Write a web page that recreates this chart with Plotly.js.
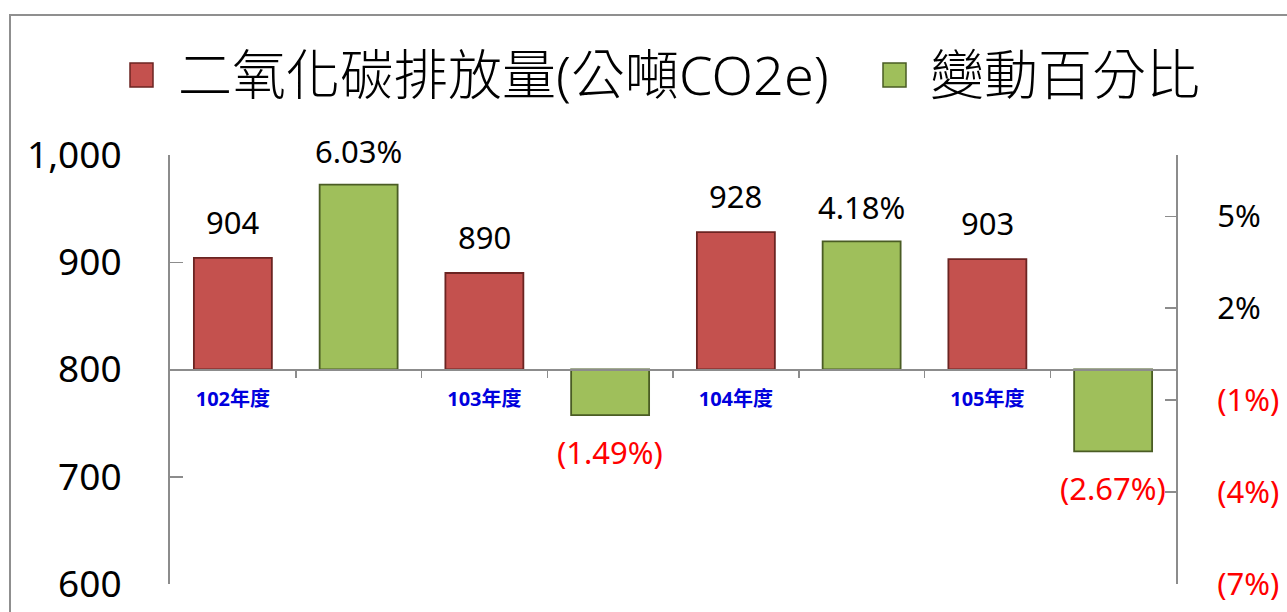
<!DOCTYPE html>
<html>
<head>
<meta charset="utf-8">
<script src="https://cdn.plot.ly/plotly-3.0.1.min.js"></script>
<style>
  html, body { margin: 0; padding: 0; background: #ffffff; overflow: hidden; }
  #chart { width: 1287px; height: 612px; position: absolute; left: 0; top: 0; }
  #frame { position: absolute; left: 9px; top: 14px; width: 1400px; height: 800px;
           border-left: 2px solid #8f8f8f; border-top: 2px solid #8f8f8f; pointer-events: none; }
</style>
</head>
<body>
<div id="chart"></div>
<div id="frame"></div>
<script>
// ---- data ----
const categories = ["102年度", "103年度", "104年度", "105年度"];
const emissions = [904, 890, 928, 903];          // 二氧化碳排放量(公噸CO2e)
const changePct = [6.03, -1.49, 4.18, -2.67];    // 變動百分比 (%)
const leftTicks = [600, 700, 800, 900, 1000];
const rightTicks = [5, 2, -1, -4, -7];
const seriesNames = ["二氧化碳排放量(公噸CO2e)", "變動百分比"];

// ---- styling ----
const BASE = 800;
const RED = "#C4514E", RED_EDGE = "#6b2422";
const GREEN = "#9FBF5B", GREEN_EDGE = "#4a5c24";
const FONT = "Noto Sans, Noto Sans CJK TC, sans-serif";
const AXIS = "#8c8c8c";

// plot area in pixels
const W = 1287, H = 612, L = 170, R = 1176, T = 155, B = 584;
const px = x => (x - L) / (R - L);
const py = y => (B - y) / (B - T);

const xRed = categories.map((c, i) => 2 * i);
const xGreen = categories.map((c, i) => 2 * i + 1);

const fmtPct = v => v < 0 ? "(" + Math.abs(v).toFixed(2) + "%)" : v.toFixed(2) + "%";
const fmtTickPct = v => v < 0 ? "<span style='color:#FF0000'>(" + Math.abs(v) + "%)</span>" : v + "%";

const traces = [
  {
    type: "bar", name: seriesNames[0], x: xRed,
    y: emissions.map(v => v - BASE), base: BASE,
    width: 0.62, yaxis: "y",
    marker: { color: RED, line: { color: RED_EDGE, width: 1.8 } },
    hoverinfo: "skip", showlegend: false
  },
  {
    type: "bar", name: seriesNames[1], x: xGreen,
    y: changePct, width: 0.62, yaxis: "y2",
    marker: { color: GREEN, line: { color: GREEN_EDGE, width: 1.8 } },
    hoverinfo: "skip", showlegend: false
  }
];

const annotations = [];
// value labels
emissions.forEach((v, i) => annotations.push({
  x: xRed[i], y: v, xref: "x", yref: "y", text: String(v), showarrow: false,
  yanchor: "middle", yshift: 36, font: { family: FONT, size: 31, color: "#000000" }
}));
changePct.forEach((v, i) => annotations.push({
  x: xGreen[i], y: v, xref: "x", yref: "y2", text: fmtPct(v), showarrow: false,
  yanchor: "middle", yshift: v >= 0 ? 34 : -37,
  font: { family: FONT, size: 31, color: v >= 0 ? "#000000" : "#FF0000" }
}));
// legend (custom, large)
annotations.push({
  x: px(176), y: py(74), xref: "paper", yref: "paper", text: seriesNames[0],
  showarrow: false, xanchor: "left", yanchor: "middle",
  font: { family: FONT, size: 54, color: "#000000", weight: 300 }
});
annotations.push({
  x: px(928), y: py(74), xref: "paper", yref: "paper", text: seriesNames[1],
  showarrow: false, xanchor: "left", yanchor: "middle",
  font: { family: FONT, size: 54, color: "#000000", weight: 300 }
});

const shapes = [
  { type: "rect", xref: "paper", yref: "paper", x0: px(130), x1: px(153), y0: py(87), y1: py(63),
    fillcolor: RED, line: { color: RED_EDGE, width: 1.5 } },
  { type: "rect", xref: "paper", yref: "paper", x0: px(883), x1: px(906), y0: py(87), y1: py(63),
    fillcolor: GREEN, line: { color: GREEN_EDGE, width: 1.5 } }
];

const layout = {
  width: W, height: H,
  margin: { l: L, r: W - R, t: T, b: H - B, pad: 0 },
  paper_bgcolor: "#ffffff", plot_bgcolor: "#ffffff",
  barmode: "overlay", showlegend: false,
  font: { family: FONT },
  xaxis: {
    range: [-0.5, 7.5], anchor: "free", position: 0.5,
    showgrid: false, zeroline: false,
    showline: true, linecolor: AXIS, linewidth: 2,
    tickmode: "array", tickvals: xRed, ticktext: categories,
    ticks: "", ticklabelstandoff: 11,
    tickfont: { family: FONT, size: 20, color: "#0000DD", weight: "bold" },
    minor: { tickmode: "array", tickvals: [0.5, 1.5, 2.5, 3.5, 4.5, 5.5, 6.5],
             ticks: "outside", ticklen: 7, tickcolor: AXIS, tickwidth: 1.5, showgrid: false }
  },
  yaxis: {
    range: [600, 1000], tickmode: "array", tickvals: leftTicks,
    ticktext: leftTicks.map(t => t.toLocaleString("en-US")),
    showticklabels: true, ticks: "inside", ticklen: 13, tickcolor: AXIS, tickwidth: 1.5,
    ticklabelstandoff: 39,
    tickfont: { family: FONT, size: 37, color: "#000000" },
    showline: true, linecolor: AXIS, linewidth: 2,
    showgrid: false, zeroline: false
  },
  yaxis2: {
    overlaying: "y", side: "right", range: [-7, 7],
    tickmode: "array", tickvals: rightTicks, ticktext: rightTicks.map(fmtTickPct),
    ticks: "inside", ticklen: 11, tickcolor: AXIS, tickwidth: 1.5,
    showline: true, linecolor: AXIS, linewidth: 2,
    showgrid: false, zeroline: false, ticklabelstandoff: 33,
    tickfont: { family: FONT, size: 31, color: "#000000" }
  },
  annotations: annotations,
  shapes: shapes
};

Plotly.newPlot("chart", traces, layout, { staticPlot: true, displayModeBar: false });
</script>
</body>
</html>
